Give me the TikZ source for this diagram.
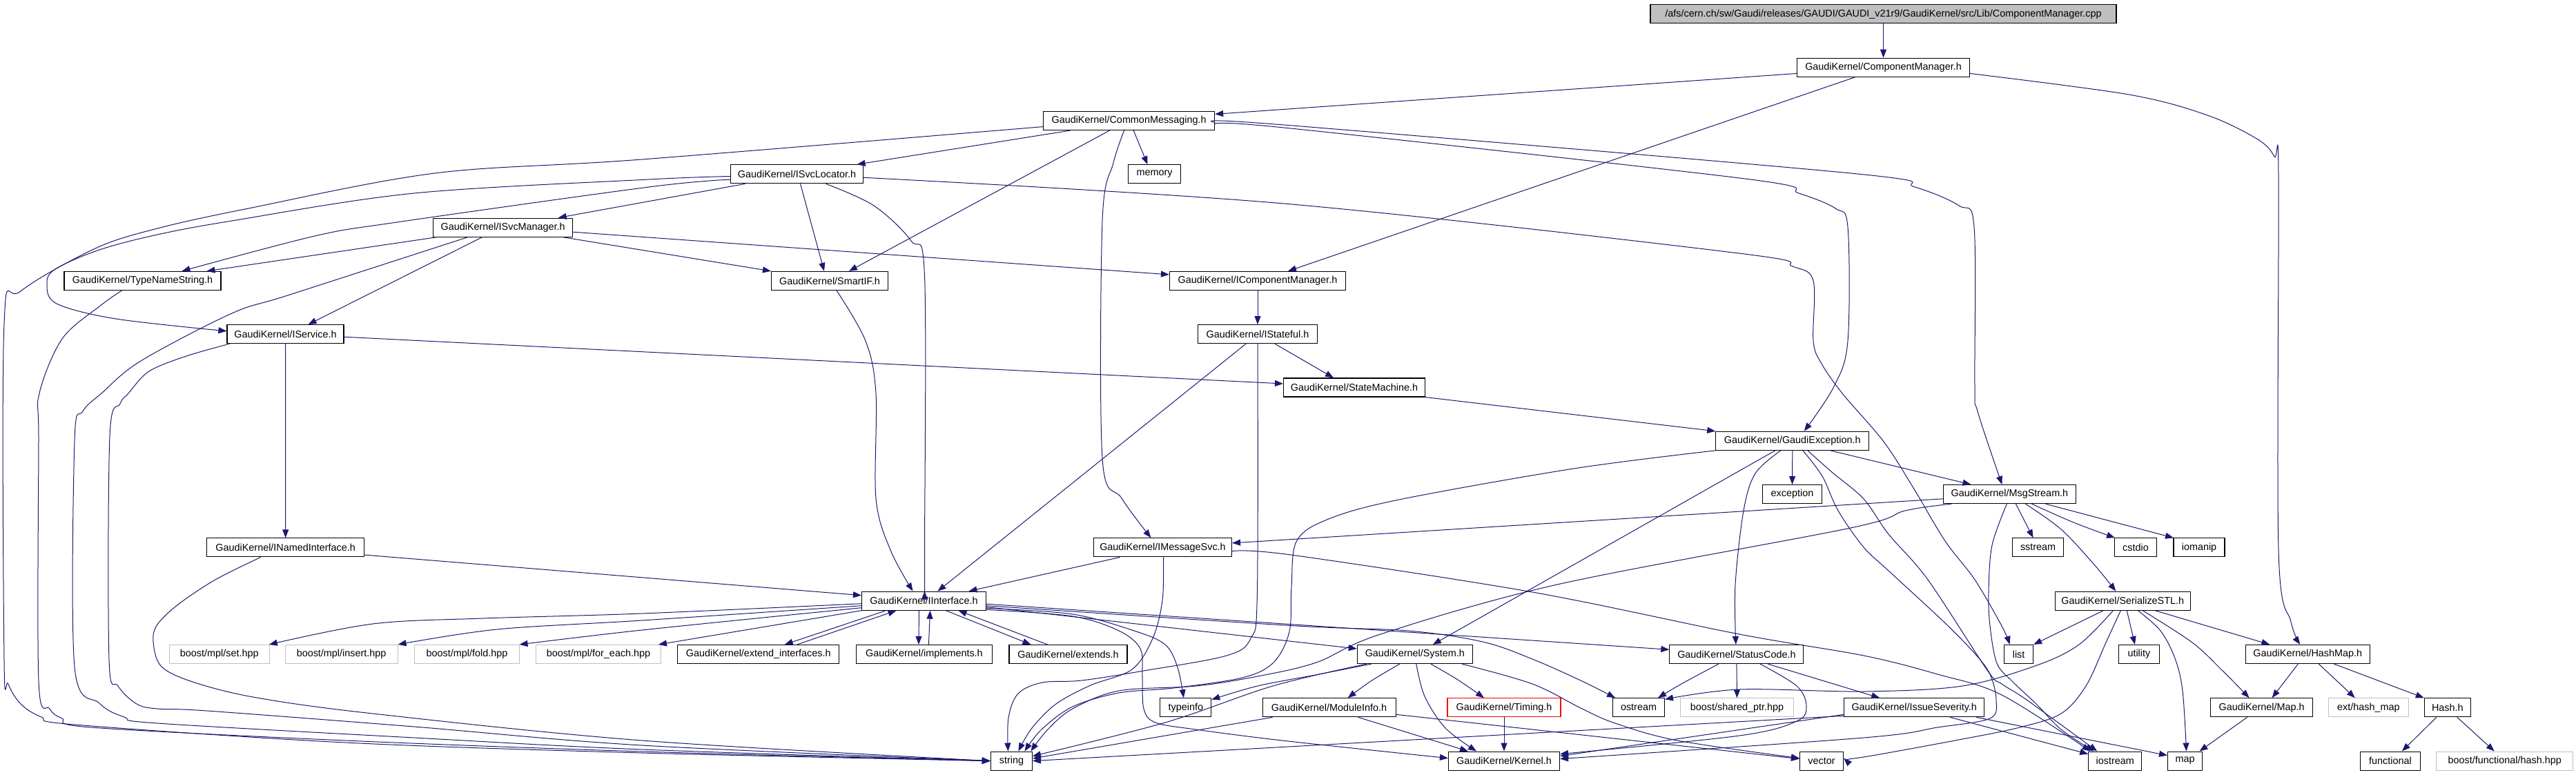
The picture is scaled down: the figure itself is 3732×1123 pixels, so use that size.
\documentclass[tikz,border=0pt]{standalone}
\usepackage{fontspec}
\setmainfont{Liberation Sans}
\usetikzlibrary{arrows.meta}
\definecolor{edgec}{HTML}{191970}
\definecolor{boxgray}{HTML}{BFBFBF}
\newcommand\boxfont{\fontsize{14.4}{16}\selectfont}
\newcommand\mynode[6]{\node[#6, minimum width=#4pt] (#1) at (#2,#3) {#5};}
\begin{document}
\begin{tikzpicture}[x=1pt,y=-1pt,
  box/.style={draw=black, line width=1.1pt, fill=white, minimum height=27pt, inner sep=0pt, font=\boxfont},
  graybox/.style={box, draw=boxgray},
  redbox/.style={box, draw=red},
  topbox/.style={box, fill=boxgray},
  edge/.style={draw=edgec, line width=1pt, -{Triangle[length=12pt,width=9pt]}},
  sm/.style={smooth, tension=0.55}]
\useasboundingbox (0,0) rectangle (3732,1123);
% nodes
\mynode{top}{2728.5}{20.4}{675}{/afs/cern.ch/sw/Gaudi/releases/GAUDI/GAUDI\_v21r9/GaudiKernel/src/Lib/ComponentManager.cpp}{topbox}
\mynode{cm}{2728.5}{97.8}{250}{GaudiKernel/ComponentManager.h}{box}
\mynode{comm}{1635.6}{175}{248}{GaudiKernel/CommonMessaging.h}{box}
\mynode{isl}{1154.5}{252.3}{192}{GaudiKernel/ISvcLocator.h}{box}
\mynode{memory}{1672.5}{252.3}{76}{memory}{box}
\mynode{ism}{728.7}{329.6}{202}{GaudiKernel/ISvcManager.h}{box}
\mynode{tns}{206.5}{406.9}{227}{GaudiKernel/TypeNameString.h}{box}
\mynode{smartif}{1202}{406.9}{169}{GaudiKernel/SmartIF.h}{box}
\mynode{icm}{1822}{406.9}{255}{GaudiKernel/IComponentManager.h}{box}
\mynode{isvc}{413.5}{484.2}{169}{GaudiKernel/IService.h}{box}
\mynode{istf}{1822}{484.2}{173}{GaudiKernel/IStateful.h}{box}
\mynode{smach}{1962}{561.5}{205}{GaudiKernel/StateMachine.h}{box}
\mynode{gex}{2596.8}{638.8}{222}{GaudiKernel/GaudiException.h}{box}
\mynode{exc}{2596.5}{716.1}{86}{exception}{box}
\mynode{msg}{2911.4}{716.1}{192}{GaudiKernel/MsgStream.h}{box}
\mynode{inamed}{413.7}{793.4}{228}{GaudiKernel/INamedInterface.h}{box}
\mynode{imsg}{1684.5}{793.4}{200}{GaudiKernel/IMessageSvc.h}{box}
\mynode{sstream}{2952.6}{793.4}{74}{sstream}{box}
\mynode{cstdio}{3094}{793.4}{61}{cstdio}{box}
\mynode{iomanip}{3186}{793.4}{74}{iomanip}{box}
\mynode{iint}{1338.5}{870.7}{180}{GaudiKernel/IInterface.h}{box}
\mynode{ser}{3075.3}{870.7}{196}{GaudiKernel/SerializeSTL.h}{box}
\mynode{bset}{317.8}{948}{145}{boost/mpl/set.hpp}{graybox}
\mynode{bins}{494.6}{948}{163}{boost/mpl/insert.hpp}{graybox}
\mynode{bfold}{676.5}{948}{152}{boost/mpl/fold.hpp}{graybox}
\mynode{bfe}{867}{948}{181}{boost/mpl/for\_each.hpp}{graybox}
\mynode{extif}{1098.8}{948}{234}{GaudiKernel/extend\_interfaces.h}{box}
\mynode{impl}{1338.9}{948}{197}{GaudiKernel/implements.h}{box}
\mynode{ext}{1547.5}{948}{171}{GaudiKernel/extends.h}{box}
\mynode{sys}{2049.8}{948}{167}{GaudiKernel/System.h}{box}
\mynode{sc}{2515.9}{948}{194}{GaudiKernel/StatusCode.h}{box}
\mynode{nlist}{2924.6}{948}{42}{list}{box}
\mynode{utility}{3098.9}{948}{59}{utility}{box}
\mynode{hm}{3343.3}{948}{180}{GaudiKernel/HashMap.h}{box}
\mynode{typeinfo}{1717.8}{1025.3}{74}{typeinfo}{box}
\mynode{modinfo}{1925.6}{1025.3}{193}{GaudiKernel/ModuleInfo.h}{box}
\mynode{timing}{2179}{1025.3}{164}{GaudiKernel/Timing.h}{redbox}
\mynode{ostream}{2374}{1025.3}{75}{ostream}{box}
\mynode{bsp}{2516.5}{1025.3}{164}{boost/shared\_ptr.hpp}{graybox}
\mynode{issue}{2773.2}{1025.3}{203}{GaudiKernel/IssueSeverity.h}{box}
\mynode{mapH}{3276.6}{1025.3}{148}{GaudiKernel/Map.h}{box}
\mynode{ehm}{3431.3}{1025.3}{116}{ext/hash\_map}{graybox}
\mynode{hash}{3545.8}{1025.3}{67}{Hash.h}{box}
\mynode{nstring}{1465.4}{1102.6}{60}{string}{box}
\mynode{kernel}{2179}{1102.6}{161}{GaudiKernel/Kernel.h}{box}
\mynode{vector}{2639}{1102.6}{63}{vector}{box}
\mynode{iostream}{3064.3}{1102.6}{77}{iostream}{box}
\mynode{nmap}{3165.5}{1102.6}{50}{map}{box}
\mynode{functional}{3462.9}{1102.6}{87}{functional}{box}
\mynode{bfh}{3628.7}{1102.6}{198}{boost/functional/hash.hpp}{graybox}
% edges: top / ComponentManager
\draw[edge] (top.south) -- (cm.north);
\draw[edge] ([yshift=-8.7pt]cm.west) -- ([yshift=9.6pt]comm.east);
\draw[edge] ([xshift=-41pt]cm.south) -- ([xshift=44pt]icm.north);
\draw[edge] plot[sm] coordinates {([yshift=-8.7pt]cm.east) (3084,137) (3198,167) (3271,202) (3295,227) (3301,255) (3301,797) (3319,901) ([xshift=-11pt]hm.north)};
% CommonMessaging
\draw[edge] ([xshift=-85pt]comm.south) -- ([xshift=87pt]isl.north);
\draw[edge] ([xshift=6.6pt]comm.south) -- ([xshift=-10pt]memory.north);
\draw[edge] ([xshift=-28pt]comm.south) -- ([xshift=28pt]smartif.north);
\draw[edge] plot[sm] coordinates {([xshift=-7pt]comm.south) (1613,236) (1597,320) (1597,664) (1625,722) ([xshift=-17pt]imsg.north)};
\draw[edge] plot[sm] coordinates {([yshift=-2.4pt]comm.east) (1860,181) (2681,251) (2774,271) (2838,298) (2860,329) (2861,560) (2865,596) ([xshift=-11pt]msg.north)};
\draw[edge] plot[sm] coordinates {([yshift=-5.7pt]comm.east) (1860,185) (2528,259) (2606,280) (2659,302) (2677,329) (2677,494) (2657,560) ([xshift=17pt]gex.north)};
\draw[edge] plot[sm] coordinates {([yshift=-8.6pt]comm.west) (930,231) (630,251) (360,302) (228,331) (138,360) (30,422) (6,469) (6,955) (12,991) (30,1020) (60,1039) (108,1050) (500,1076) (930,1091) (nstring.west)};
% ISvcLocator
\draw[edge] plot[sm] coordinates {([yshift=-3.2pt]isl.west) (940,260) (600,280) (336,320) (228,340) (144,362) (80,390) (68,412) (82,440) (168,462) ([yshift=4.4pt]isvc.west)};
\draw[edge] plot[sm] coordinates {([yshift=-7.9pt]isl.west) (940,271) (575,322) (456,342) ([xshift=57pt]tns.north)};
\draw[edge] ([xshift=-75pt]isl.south) -- ([xshift=80pt]ism.north);
\draw[edge] ([xshift=5pt]isl.south) -- ([xshift=-8pt]smartif.north);
\draw[edge] plot[sm] coordinates {([xshift=42pt]isl.south) (1266,298) (1320,349) (1339.5,400) (1339.5,800) ([xshift=1pt]iint.north)};
\draw[edge] plot[sm] coordinates {([yshift=-5pt]isl.east) (1860,295) (2519,367) (2597,386) (2627,407) (2627,494) (2639,527) (2669,570) (2729,640) (2772,707) (2818,784) (2861,840) (2900,907) ([xshift=-13pt]nlist.north)};
% ISvcManager
\draw[edge] ([xshift=-96pt]ism.south) -- ([xshift=93pt]tns.north);
\draw[edge] ([xshift=-30pt]ism.south) -- ([xshift=33pt]isvc.north);
\draw[edge] plot[sm] coordinates {([xshift=-51pt]ism.south) (420,427) (336,454) (204,523) (147,570) (120,596) (108,639) (108,966) (144,1019) (180,1039) (228,1048) (600,1069) (930,1086) (nstring.west)};
\draw[edge] ([xshift=86.6pt]ism.south) -- (smartif.north west);
\draw[edge] ([yshift=-6.6pt]ism.east) -- ([yshift=9pt]icm.west);
% TypeNameString, IService, INamedInterface
\draw[edge] plot[sm] coordinates {([xshift=-30pt]tns.south) (144,444) (90,491) (57,570) (56,640) (56,987) (72,1027) (90,1041) (132,1054) (500,1073) (930,1089) (nstring.west)};
\draw[edge] plot[sm] coordinates {([xshift=-81pt]isvc.south) (270,516) (216,538) (186,570) (174,585) (159,632) (158,955) (171,994) (198,1020) (228,1027) (300,1030) (600,1053) (930,1080) (nstring.west)};
\draw[edge] ([yshift=-4pt]isvc.east) -- ([yshift=5.5pt]smach.west);
\draw[edge] (isvc.south) -- (inamed.north);
\draw[edge] plot[sm] coordinates {([xshift=-36pt]inamed.south) (312,840) (258,876) (228,905) (222,930) (234,966) (282,989) (372,1011) (540,1034) (930,1073) (nstring.west)};
\draw[edge] ([yshift=-10.7pt]inamed.east) -- ([yshift=8pt]iint.west);
% IComponentManager, IStateful, SmartIF, StateMachine
\draw[edge] (icm.south) -- (istf.north);
\draw[edge] plot[sm] coordinates {([xshift=10pt]smartif.south) (1254,494) (1269,570) (1269,722) (1290,797) ([xshift=-16pt]iint.north)};
\draw[edge] ([xshift=-17pt]istf.south) -- ([xshift=20pt]iint.north);
\draw[edge] ([xshift=25pt]istf.south) -- ([xshift=-30pt]smach.north);
\draw[edge] plot[sm] coordinates {(istf.south) (1821.4,860) (1812,925) (1777,950) (1657,972) (1567,986) (1510,989) (1475,1005) (1461,1040) ([xshift=-5pt]nstring.north)};
\draw[edge] (smach.south east) -- (gex.north west);
% IMessageSvc
\draw[edge] ([xshift=-62pt]imsg.south) -- ([xshift=65pt]iint.north);
\draw[edge] plot[sm] coordinates {([xshift=1pt]imsg.south) (1684,870) (1670,925) (1640,970) (1580,993) (1530,1020) (1495,1055) ([xshift=10pt]nstring.north)};
\draw[edge] plot[sm] coordinates {([yshift=-5.3pt]imsg.east) (1870,804) (2220,858) (2520,919) (2700,950) (2807,977) (2900,1007) ([xshift=-36pt]iostream.north)};
% MsgStream
\draw[edge] ([yshift=-6.7pt]msg.west) -- ([yshift=6.5pt]imsg.east);
\draw[edge] plot[sm] coordinates {([xshift=-84pt]msg.south) (2760,740) (2681,765) (2256,847) (2000,919) (1907,960) (1822,980) (1733,994) (1621,1001) (1554,1027) (1518,1057) ([xshift=28pt]nstring.north)};
\draw[edge] plot[sm] coordinates {([xshift=-4pt]msg.south) (2886,790) (2881,857) (2883,907) (2893,961) (2915,987) (2951,1021) (2986,1057) ([xshift=-31pt]iostream.north)};
\draw[edge] ([xshift=9pt]msg.south) -- ([xshift=-7pt]sstream.north);
\draw[edge] plot[sm] coordinates {([xshift=23pt]msg.south) (2986,767) (3033,817) ([xshift=-10pt]ser.north)};
\draw[edge] plot[sm] coordinates {([xshift=32pt]msg.south) (3004,757) ([xshift=-30pt]cstdio.north)};
\draw[edge] ([xshift=52pt]msg.south) -- ([xshift=-37pt]iomanip.north);
% GaudiException
\draw[edge] (gex.south) -- (exc.north);
\draw[edge] ([xshift=55pt]gex.south) -- ([xshift=-56pt]msg.north);
\draw[edge] ([xshift=-25pt]gex.south) -- ([xshift=26pt]sys.north);
\draw[edge] plot[sm] coordinates {([xshift=-17pt]gex.south) (2543,686) (2526,740) (2514,847) ([xshift=-1pt]sc.north)};
\draw[edge] plot[sm] coordinates {(gex.south west) (2280,679) (2022,725) (1920,754) (1878,785) (1871,850) (1868,915) (1845,960) (1800,982) (1700,997) (1621,1004) (1554,1024) (1509,1057) ([xshift=19pt]nstring.north)};
\draw[edge] plot[sm] coordinates {([xshift=22pt]gex.south) (2655,685) (2700,723) (2736,774) (2793,840) (2879,971) (2900,991) (2936,1014) ([xshift=-26pt]iostream.north)};
\draw[edge] plot[sm] coordinates {([xshift=15pt]gex.south) (2640,690) (2663,740) (2700,793) (2736,827) (2815,900) (2861,947) (2883,977) (2892,1014) (2883,1041) (2807,1054) (2700,1069) ([yshift=3pt]kernel.east)};
% IInterface
\draw[edge] plot[sm] coordinates {([yshift=-4pt]iint.west) (930,889) (700,896) (540,904) ([xshift=72pt]bset.north)};
\draw[edge] plot[sm] coordinates {([yshift=-7pt]iint.west) (930,899) (720,912) ([xshift=82pt]bins.north)};
\draw[edge] plot[sm] coordinates {([yshift=-10pt]iint.west) (930,913) ([xshift=76pt]bfold.north)};
\draw[edge] (iint.south west) -- ([xshift=87pt]bfe.north);
\draw[edge] ([xshift=-55pt]iint.south) -- ([xshift=38pt]extif.north);
\draw[edge] ([xshift=56pt]extif.north) -- ([xshift=-40pt]iint.south);
\draw[edge] ([xshift=-7pt]iint.south) -- ([xshift=-8pt]impl.north);
\draw[edge] ([xshift=6.5pt]impl.north) -- ([xshift=9pt]iint.south);
\draw[edge] ([xshift=32pt]iint.south) -- ([xshift=-54pt]ext.north);
\draw[edge] ([xshift=-30pt]ext.north) -- ([xshift=50pt]iint.south);
\draw[edge] ([yshift=-4.5pt]iint.east) -- ([yshift=6.7pt]sc.west);
\draw[edge] plot[sm] coordinates {([yshift=-7pt]iint.east) (1870,906.5) (2040,914) (2148,930) (2220,955) (2292,987) ([xshift=-34pt]ostream.north)};
\draw[edge] ([yshift=-8.8pt]iint.east) -- ([yshift=8pt]sys.west);
\draw[edge] plot[sm] coordinates {([yshift=-10.7pt]iint.east) (1554,890) (1643,914) (1688,934) (1706,967) ([xshift=-3pt]typeinfo.north)};
\draw[edge] plot[sm] coordinates {([yshift=-12.7pt]iint.east) (1554,893) (1621,914) (1652,940) (1655,980) (1657,1027) (1674,1047) (1732,1057) (1866,1074) ([yshift=4pt]kernel.west)};
% System, ModuleInfo, Timing
\draw[edge] plot[sm] coordinates {([xshift=-70pt]sys.south) (1844,994) (1688,1047) ([yshift=7pt]nstring.east)};
\draw[edge] plot[sm] coordinates {([xshift=-63pt]sys.south) (1911,977) (1822,994) ([yshift=11.5pt]typeinfo.east)};
\draw[edge] plot[sm] coordinates {([xshift=-22pt]sys.south) (1986,987) ([xshift=27pt]modinfo.north)};
\draw[edge] plot[sm] coordinates {([xshift=2pt]sys.south) (2064,1009) (2094,1055) ([xshift=-40pt]kernel.north)};
\draw[edge] plot[sm] coordinates {([xshift=23pt]sys.south) (2112,985) ([xshift=-29pt]timing.north)};
\draw[edge] plot[sm] coordinates {([xshift=68pt]sys.south) (2220,991) (2292,1027) (2340,1048) (2430,1073) ([yshift=4pt]vector.west)};
\draw[edge] ([xshift=-82pt]modinfo.south) -- ([yshift=3.6pt]nstring.east);
\draw[edge] ([xshift=42pt]modinfo.south) -- ([xshift=-52pt]kernel.north);
\draw[edge] ([yshift=-10pt]modinfo.east) -- ([yshift=3pt]vector.west);
\draw[edge] (timing.south) -- (kernel.north);
% StatusCode, IssueSeverity
\draw[edge] plot[sm] coordinates {([xshift=-26pt]sc.south) (2436,991) ([xshift=28pt]ostream.north)};
\draw[edge] (sc.south) -- (bsp.north);
\draw[edge] ([xshift=45pt]sc.south) -- ([xshift=-50pt]issue.north);
\draw[edge] plot[sm] coordinates {([xshift=34pt]sc.south) (2603,994) (2617,1023) (2603,1045) (2520,1066) ([yshift=10pt]kernel.east)};
\draw[edge] ([yshift=-10pt]issue.west) -- ([yshift=7pt]kernel.east);
\draw[edge] ([yshift=-12pt]issue.west) -- (nstring.east);
\draw[edge] ([xshift=52pt]issue.south) -- ([yshift=10pt]iostream.west);
\draw[edge] ([xshift=90pt]issue.south) -- ([yshift=8pt]nmap.west);
% SerializeSTL
\draw[edge] ([xshift=-28pt]ser.south) -- (nlist.north east);
\draw[edge] ([xshift=6pt]ser.south) -- ([xshift=-6pt]utility.north);
\draw[edge] plot[sm] coordinates {([xshift=22pt]ser.south) (3130,914) (3151,954) (3162,1001) ([xshift=2pt]nmap.north)};
\draw[edge] plot[sm] coordinates {([xshift=29pt]ser.south) (3176,931) (3219,971) ([xshift=-18pt]mapH.north)};
\draw[edge] ([xshift=47pt]ser.south) -- ([xshift=-55pt]hm.north);
\draw[edge] plot[sm] coordinates {([xshift=-14pt]ser.south) (3012,934) (2951,964) (2843,994) (2700,1002) (2520,999) ([yshift=12pt]ostream.east)};
\draw[edge] plot[sm] coordinates {([xshift=-3pt]ser.south) (3051,931) (3022,994) (2986,1034) (2926,1054) (2843,1071) (2700,1097) ([yshift=4pt]vector.east)};
% HashMap, Map, Hash
\draw[edge] ([xshift=-14pt]hm.south) -- ([xshift=15pt]mapH.north);
\draw[edge] ([xshift=16pt]hm.south) -- ([xshift=-19.5pt]ehm.north);
\draw[edge] ([xshift=38pt]hm.south) -- (hash.north west);
\draw[edge] ([xshift=-21pt]mapH.south) -- ([xshift=21pt]nmap.north);
\draw[edge] ([xshift=-16pt]hash.south) -- ([xshift=17pt]functional.north);
\draw[edge] ([xshift=14pt]hash.south) -- ([xshift=-15pt]bfh.north);
\end{tikzpicture}
\end{document}
